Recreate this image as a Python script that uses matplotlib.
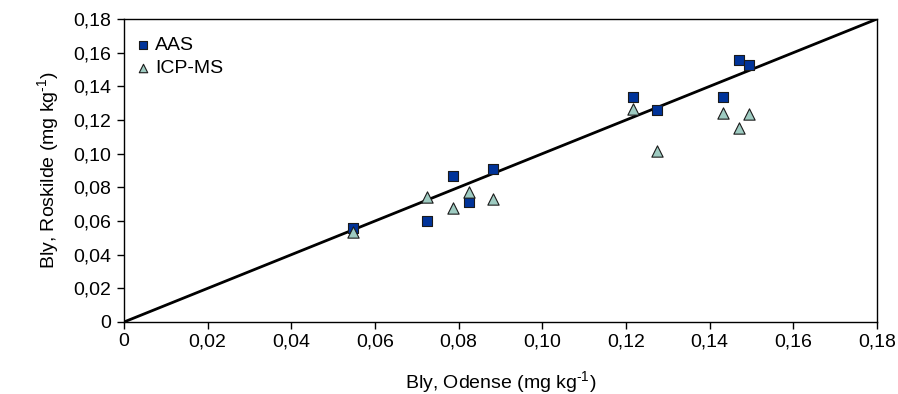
import matplotlib
matplotlib.use("Agg")
import matplotlib.pyplot as plt
from matplotlib.ticker import FixedLocator, FuncFormatter

plt.rcParams['font.family'] = ['Liberation Sans', 'DejaVu Sans']
plt.rcParams['mathtext.fontset'] = 'custom'
plt.rcParams['mathtext.rm'] = 'Liberation Sans'
plt.rcParams['mathtext.it'] = 'Liberation Sans'

# Bly (lead) measured in Odense vs Roskilde, mg/kg
odense = [0.0548, 0.0725, 0.0786, 0.0824, 0.0883, 0.1216, 0.1275, 0.1433, 0.1471, 0.1493]
aas = [0.0557, 0.0598, 0.0868, 0.0712, 0.0906, 0.1338, 0.1262, 0.1338, 0.1557, 0.1526]
icpms = [0.0537, 0.0745, 0.0675, 0.0772, 0.0729, 0.1268, 0.1014, 0.1240, 0.1150, 0.1235]
ticks = [0, 0.02, 0.04, 0.06, 0.08, 0.10, 0.12, 0.14, 0.16, 0.18]

fig = plt.figure(figsize=(8.98, 3.94), dpi=100)
ax = fig.add_axes([124 / 898, 72 / 394, 753 / 898, 303 / 394])

# 1:1 line
ax.plot([0, 0.18], [0, 0.18], color='black', linewidth=2, zorder=2)

ax.scatter(odense, aas, marker='s', s=60, color='#003399', edgecolors='#1a1a1a',
           linewidths=0.8, label='AAS', zorder=3)
ax.scatter(odense, icpms, marker='^', s=66, color='#9ECBC1', edgecolors='#1a1a1a',
           linewidths=0.8, label='ICP-MS', zorder=3)

ax.set_xlim(0, 0.18)
ax.set_ylim(0, 0.18)

def fmt(v, pos):
    if abs(v) < 1e-9:
        return '0'
    return f'{v:.2f}'.replace('.', ',')

ax.xaxis.set_major_locator(FixedLocator(ticks))
ax.yaxis.set_major_locator(FixedLocator(ticks))
ax.xaxis.set_major_formatter(FuncFormatter(fmt))
ax.yaxis.set_major_formatter(FuncFormatter(fmt))
ax.tick_params(direction='out', length=5, width=1, labelsize=14)
ax.tick_params(axis='x', pad=3)
ax.tick_params(axis='y', pad=4)

for sp in ax.spines.values():
    sp.set_linewidth(1)
    sp.set_color('black')

ax.set_xlabel(r'Bly, Odense (mg kg$^{\text{-1}}$)', fontsize=14, labelpad=14)
ax.set_ylabel(r'Bly, Roskilde (mg kg$^{\text{-1}}$)', fontsize=14, labelpad=9)

ax.legend(loc='upper left', bbox_to_anchor=(0.0, 0.975), frameon=False,
          fontsize=14, handletextpad=0.1, borderaxespad=0.3, labelspacing=0.3,
          handlelength=1.0, borderpad=0.2, markerscale=0.75)

fig.savefig('out.png', dpi=100)
